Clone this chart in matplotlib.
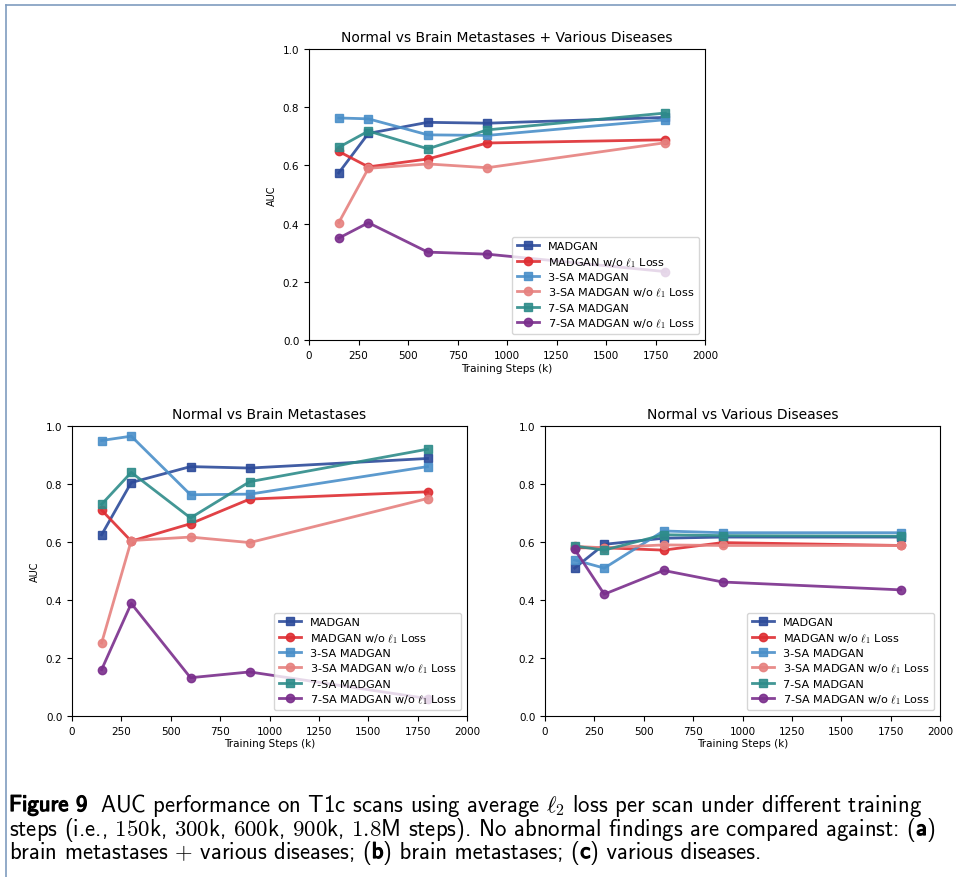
import matplotlib
matplotlib.use("Agg")
import matplotlib.pyplot as plt
import matplotlib.patheffects as pe
from matplotlib.lines import Line2D
from matplotlib.transforms import IdentityTransform

plt.rcParams['mathtext.fontset'] = 'cm'

steps = [150, 300, 600, 900, 1800]
series_names = ["MADGAN", r"MADGAN w/o $\ell_1$ Loss", "3-SA MADGAN",
                r"3-SA MADGAN w/o $\ell_1$ Loss", "7-SA MADGAN",
                r"7-SA MADGAN w/o $\ell_1$ Loss"]
series_colors = ["#2c4b9a", "#de2d32", "#4a8fc9", "#e6817f", "#2e8c8a", "#7a2e8c"]
series_markers = ["s", "o", "s", "o", "s", "o"]

# (a) Normal vs Brain Metastases + Various Diseases
auc_a_madgan = [0.574, 0.710, 0.748, 0.745, 0.765]
auc_a_madgan_wo = [0.648, 0.595, 0.622, 0.677, 0.688]
auc_a_3sa = [0.763, 0.760, 0.705, 0.703, 0.757]
auc_a_3sa_wo = [0.403, 0.590, 0.605, 0.592, 0.678]
auc_a_7sa = [0.662, 0.718, 0.657, 0.722, 0.780]
auc_a_7sa_wo = [0.350, 0.403, 0.302, 0.295, 0.235]

# (b) Normal vs Brain Metastases
auc_b_madgan = [0.625, 0.805, 0.860, 0.855, 0.888]
auc_b_madgan_wo = [0.710, 0.603, 0.663, 0.748, 0.773]
auc_b_3sa = [0.950, 0.965, 0.763, 0.765, 0.860]
auc_b_3sa_wo = [0.252, 0.605, 0.617, 0.598, 0.750]
auc_b_7sa = [0.730, 0.840, 0.683, 0.808, 0.920]
auc_b_7sa_wo = [0.160, 0.388, 0.132, 0.152, 0.060]

# (c) Normal vs Various Diseases
auc_c_madgan = [0.510, 0.592, 0.613, 0.617, 0.617]
auc_c_madgan_wo = [0.580, 0.580, 0.572, 0.598, 0.588]
auc_c_3sa = [0.538, 0.510, 0.638, 0.632, 0.632]
auc_c_3sa_wo = [0.585, 0.580, 0.590, 0.588, 0.588]
auc_c_7sa = [0.586, 0.572, 0.625, 0.622, 0.620]
auc_c_7sa_wo = [0.575, 0.420, 0.502, 0.462, 0.435]

titles = ["Normal vs Brain Metastases + Various Diseases",
          "Normal vs Brain Metastases", "Normal vs Various Diseases"]
panels = [
    [auc_a_madgan, auc_a_madgan_wo, auc_a_3sa, auc_a_3sa_wo, auc_a_7sa, auc_a_7sa_wo],
    [auc_b_madgan, auc_b_madgan_wo, auc_b_3sa, auc_b_3sa_wo, auc_b_7sa, auc_b_7sa_wo],
    [auc_c_madgan, auc_c_madgan_wo, auc_c_3sa, auc_c_3sa_wo, auc_c_7sa, auc_c_7sa_wo],
]

W, H = 956, 878
fig = plt.figure(figsize=(W / 100, H / 100), dpi=100)

def px_axes(l, t, r, b):
    return fig.add_axes([l / W, 1 - b / H, (r - l) / W, (b - t) / H])

axes = [px_axes(309, 50, 705, 341), px_axes(72, 427, 467, 717), px_axes(545, 427, 940, 717)]

for i, (ax, data) in enumerate(zip(axes, panels)):
    for vals, name, c, m in zip(data, series_names, series_colors, series_markers):
        ax.plot(steps, vals, marker=m, color=c, label=name, lw=2, ms=6, alpha=0.9)
    ax.set_xlim(0, 2000)
    ax.set_ylim(0, 1.0)
    ax.set_xticks([0, 250, 500, 750, 1000, 1250, 1500, 1750, 2000])
    ax.set_yticks([0.0, 0.2, 0.4, 0.6, 0.8, 1.0])
    ax.tick_params(labelsize=7.5, length=3.5)
    ax.set_title(titles[i], fontsize=10, pad=6)
    ax.set_xlabel("Training Steps (k)", fontsize=7.5, labelpad=2)
    if i < 2:
        ax.set_ylabel("AUC", fontsize=7, labelpad=4)
    ax.legend(loc="lower right", fontsize=8.1, framealpha=0.8,
              handlelength=2.0, labelspacing=0.3, borderpad=0.4)

# figure frame lines
fig.add_artist(Line2D([6 / W, 6 / W], [0, 1 - 6 / H], color="#7f9cbf", lw=1.2))
fig.add_artist(Line2D([6 / W, 1], [1 - 6 / H, 1 - 6 / H], color="#7f9cbf", lw=1.2))

# caption
renderer = fig.canvas.get_renderer()
cap_size = 16.4
bold_fx = [pe.withStroke(linewidth=0.9, foreground="black")]

def width_of(s, **kw):
    t = fig.text(0, 0, s, transform=IdentityTransform(), fontsize=cap_size, **kw)
    w = t.get_window_extent(renderer).width
    t.remove()
    return w

space_w = width_of("x x", family="cmss10") - width_of("xx", family="cmss10")

caption_lines = [
    [("Figure 9", True), ("AUC performance on T1c scans using average $\\ell_2$ loss per scan under different training", False)],
    [("steps (i.e., $150$k, $300$k, $600$k, $900$k, $1.8$M steps). No abnormal findings are compared against: (", False),
     ("a", True), (")", False)],
    [("brain metastases $+$ various diseases; (", False), ("b", True),
     (") brain metastases; (", False), ("c", True), (") various diseases.", False)],
]
line_y = [H - 812, H - 836, H - 859]

for segs, yb in zip(caption_lines, line_y):
    x = 9
    for j, (txt, bold) in enumerate(segs):
        kw = dict(family="cmss10")
        t = fig.text(x, yb, txt, transform=IdentityTransform(), fontsize=cap_size,
                     va="baseline", ha="left", **kw)
        if bold:
            t.set_path_effects(bold_fx)
        x += t.get_window_extent(renderer).width
        if j == 0 and bold and txt.startswith("Figure"):
            x += space_w * 1.6

fig.savefig("out.png", dpi=100)
